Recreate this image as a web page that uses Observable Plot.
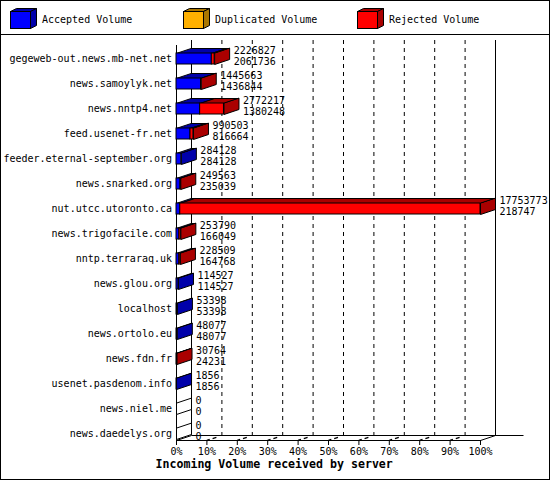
<!DOCTYPE html>
<html>
<head>
<meta charset="utf-8">
<script src="https://cdn.jsdelivr.net/npm/d3@7"></script>
<script src="https://cdn.jsdelivr.net/npm/@observablehq/plot@0.6"></script>
<style>
  body { margin: 0; background: #fff; }
  #wrap { position: relative; width: 550px; height: 480px; overflow: hidden; background: #fff;
          font-family: "DejaVu Sans Mono", monospace; font-size: 10px; color: #000; }
  #legend { position: absolute; left: 0; top: 0; width: 550px; height: 34px; }
  #legend .lbl { position: absolute; top: 14px; height: 12px; line-height: 12px; white-space: pre; }
  #legend svg { position: absolute; top: 0; }
  #sep { position: absolute; left: 0; top: 34px; width: 550px; height: 1px; background: #000; }
  #chart { position: absolute; left: 0; top: 36px; }
  #border { position: absolute; left: 0; top: 0; width: 550px; height: 480px; box-sizing: border-box;
            border: 1px solid #000; pointer-events: none; }
</style>
</head>
<body>
<div id="wrap">
  <div id="legend"></div>
  <div id="sep"></div>
  <div id="chart"></div>
  <div id="border"></div>
</div>
<script>
// ---------- data ----------
const servers = [
  "gegeweb-out.news.mb-net.net",
  "news.samoylyk.net",
  "news.nntp4.net",
  "feed.usenet-fr.net",
  "feeder.eternal-september.org",
  "news.snarked.org",
  "nut.utcc.utoronto.ca",
  "news.trigofacile.com",
  "nntp.terraraq.uk",
  "news.glou.org",
  "localhost",
  "news.ortolo.eu",
  "news.fdn.fr",
  "usenet.pasdenom.info",
  "news.niel.me",
  "news.daedelys.org"
];
const totalVolume    = [2226827, 1445663, 2772217, 990503, 284128, 249563, 17753773, 253790, 228509, 114527, 53398, 48077, 30764, 1856, 0, 0];
const acceptedVolume = [2061736, 1436844, 1380248, 816664, 284128, 235039, 218747, 166049, 164768, 114527, 53398, 48077, 24231, 1856, 0, 0];
const duplicatedVolume = [0, 0, 0, 0, 0, 0, 0, 0, 0, 0, 0, 0, 0, 0, 0, 0];
const seriesNames  = ["Accepted Volume", "Duplicated Volume", "Rejected Volume"];
const seriesColors = ["#0000ff", "#ffb000", "#ff0000"];
const seriesDark   = ["#0000aa", "#aa7600", "#aa0000"];
const pctTicks = [0, 10, 20, 30, 40, 50, 60, 70, 80, 90, 100];
const axisTitle = "Incoming Volume received by server";

// ---------- layout ----------
const W = 550, H = 444;
const mL = 176, mR = 70, mT = 9, mB = 40;
const ROW = 25, Y0 = 22.5;
const XPX = (W - mL - mR) / 100;      // pixels per percent
const DX = 15, DY = 5, HALF = 5.5;    // 3D depth and half bar height (px)
const dxu = DX / XPX, dyu = DY / ROW, hu = HALF / ROW;
const floorRow = (H - mB - Y0) / ROW;

const maxTotal = d3.max(totalVolume);
const pct = v => v / maxTotal * 100;

const rows = servers.map((name, i) => ({
  i, name, total: totalVolume[i], acc: acceptedVolume[i], dup: duplicatedVolume[i]
}));

const segs = [];
rows.forEach(r => {
  const bounds = [0, r.acc, r.acc + r.dup, r.total];
  for (let k = 0; k < 3; k++) {
    const a = pct(bounds[k]), b = pct(bounds[k + 1]);
    if (b > a) segs.push({i: r.i, k, a, b});
  }
});

const tops = [];
segs.forEach((s, j) => {
  const id = "t" + j, y = s.i - hu, f = seriesDark[s.k];
  tops.push({id, x: s.a, y, f}, {id, x: s.b, y, f},
            {id, x: s.b + dxu, y: y - dyu, f}, {id, x: s.a + dxu, y: y - dyu, f});
});
const sides = [];
rows.forEach(r => {
  const mine = segs.filter(s => s.i === r.i);
  const last = mine[mine.length - 1];
  const f = last ? seriesDark[last.k] : "#ffffff";
  const T = pct(r.total), id = "s" + r.i;
  sides.push({id, x: T, y: r.i - hu, f}, {id, x: T, y: r.i + hu, f},
             {id, x: T + dxu, y: r.i + hu - dyu, f}, {id, x: T + dxu, y: r.i - hu - dyu, f});
});

const floorLines = [
  {x1: 0, y1: floorRow, x2: 100, y2: floorRow},
  {x1: dxu, y1: floorRow - dyu, x2: 100 + dxu + 28 / XPX, y2: floorRow - dyu},
  {x1: 0, y1: floorRow, x2: dxu, y2: floorRow - dyu},
  {x1: 100, y1: floorRow, x2: 100 + dxu, y2: floorRow - dyu}
];
const tickDiag = pctTicks.slice(1, -1).map(p => ({x1: p, y1: floorRow, x2: p + dxu, y2: floorRow - dyu}));

// ---------- chart ----------
const chart = Plot.plot({
  width: W, height: H,
  marginLeft: mL, marginRight: mR, marginTop: mT, marginBottom: mB,
  x: {domain: [0, 100]},
  y: {domain: [0, 15], range: [Y0, Y0 + 15 * ROW], axis: null},
  color: {type: "identity"},
  style: {fontFamily: '"DejaVu Sans Mono", monospace', fontSize: "10px", color: "#000",
          background: "transparent", overflow: "visible"},
  marks: [
    Plot.ruleX(pctTicks.slice(1, -1), {dx: DX, dy: -DY, stroke: "#000", strokeWidth: 1, strokeDasharray: "4,4"}),
    Plot.ruleX([0, 100], {dx: DX, dy: -DY, stroke: "#000", strokeWidth: 1}),
    Plot.ruleX([0], {stroke: "#000", strokeWidth: 1}),
    Plot.link(floorLines, {x1: "x1", y1: "y1", x2: "x2", y2: "y2", stroke: "#000", strokeWidth: 1}),
    Plot.link(tickDiag, {x1: "x1", y1: "y1", x2: "x2", y2: "y2", stroke: "#000", strokeWidth: 1.5, strokeDasharray: "3,3,4,20"}),
    Plot.axisX({ticks: pctTicks, tickFormat: d => d + "%", tickSize: 5, tickPadding: 2, label: null, stroke: "#000"}),
    Plot.line(tops, {x: "x", y: "y", z: "id", fill: "f", stroke: "#000", strokeWidth: 1,
                     strokeLinejoin: "miter", curve: "linear-closed"}),
    Plot.rect(segs, {x1: "a", x2: "b", y1: d => d.i - hu, y2: d => d.i + hu,
                     fill: d => seriesColors[d.k], stroke: "#000", strokeWidth: 1}),
    Plot.line(sides, {x: "x", y: "y", z: "id", fill: "f", stroke: "#000", strokeWidth: 1,
                      strokeLinejoin: "miter", curve: "linear-closed"}),
    Plot.text(rows, {x: 0, y: "i", text: "name", textAnchor: "end", dx: -4.5, fill: "#000"}),
    Plot.text(rows, {x: d => pct(d.total), y: "i", text: d => String(d.total), textAnchor: "start", dx: 19, dy: -8.5, fill: "#000"}),
    Plot.text(rows, {x: d => pct(d.total), y: "i", text: d => String(d.acc), textAnchor: "start", dx: 19, dy: 2.5, fill: "#000"}),
    Plot.text([axisTitle], {frameAnchor: "bottom-left", dx: -21, dy: 27, textAnchor: "start",
                            fontWeight: "bold", fontSize: 11.6, fill: "#000"})
  ]
});
document.getElementById("chart").appendChild(chart);

// ---------- legend ----------
const legend = d3.select("#legend");
const cubeX = [10, 183, 357];
seriesNames.forEach((name, k) => {
  const x0 = cubeX[k];
  const svg = legend.append("svg").attr("width", 40).attr("height", 34).style("left", x0 + "px");
  const fx = 0.5, fy = 11.5, fw = 20, fh = 17, dx = 6, dy = 3;
  svg.append("polygon")
    .attr("points", [[fx, fy], [fx + fw, fy], [fx + fw + dx, fy - dy], [fx + dx, fy - dy]].join(" "))
    .attr("fill", seriesDark[k]).attr("stroke", "#000");
  svg.append("polygon")
    .attr("points", [[fx + fw, fy], [fx + fw + dx, fy - dy], [fx + fw + dx, fy + fh - dy], [fx + fw, fy + fh]].join(" "))
    .attr("fill", seriesDark[k]).attr("stroke", "#000");
  svg.append("rect").attr("x", fx).attr("y", fy).attr("width", fw).attr("height", fh)
    .attr("fill", seriesColors[k]).attr("stroke", "#000");
  legend.append("div").attr("class", "lbl").style("left", (x0 + 32) + "px").text(name);
});
</script>
</body>
</html>
